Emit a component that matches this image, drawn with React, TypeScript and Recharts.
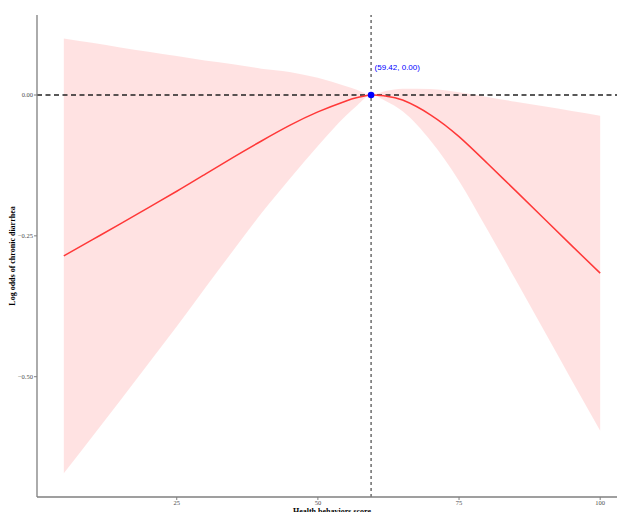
import React from 'react';
import {
  ComposedChart,
  Area,
  Line,
  XAxis,
  YAxis,
  ReferenceLine,
  ReferenceDot,
} from 'recharts';

// Health behaviors score (x)
const scores = [5, 10, 15, 20, 25, 30, 35, 40, 45, 50, 55, 57, 59.42, 62, 65, 70, 75, 80, 85, 90, 95, 100];
// Estimated log odds of chronic diarrhea
const fitValues = [
  -0.2855, -0.2571, -0.2288, -0.1998, -0.1708, -0.1407, -0.1106, -0.0816, -0.054, -0.03, -0.0105,
  -0.0045, 0, -0.0018, -0.0089, -0.0355, -0.0739, -0.1212, -0.1697, -0.2187, -0.2678, -0.3162,
];
// 95% CI upper bound
const upperValues = [
  0.1004, 0.0927, 0.0845, 0.0768, 0.0691, 0.0614, 0.0548, 0.0468, 0.041, 0.0305, 0.0155,
  0.009, 0, 0.0071, 0.0112, 0.0106, 0.0047, -0.0035, -0.0119, -0.0201, -0.0284, -0.0367,
];
// 95% CI lower bound
const lowerValues = [
  -0.6714, -0.6069, -0.5421, -0.4764, -0.4107, -0.3428, -0.276, -0.21, -0.149, -0.0905, -0.0365,
  -0.018, 0, -0.0107, -0.029, -0.0816, -0.1525, -0.2389, -0.3275, -0.4173, -0.5072, -0.5957,
];

const xTicks = [25, 50, 75, 100];
const yTicks = [-0.5, -0.25, 0];
const refPoint = { x: 59.42, y: 0 };

const data = scores.map((s, i) => ({
  x: s,
  fit: fitValues[i],
  band: [lowerValues[i], upperValues[i]],
}));

const axisColor = '#7f7f7f';
const tickStyle = { fill: '#4d4d4d', fontSize: 6.5, fontFamily: 'Liberation Serif, serif' };

const fmtY = (v: number) => {
  const s = Math.abs(v).toFixed(2);
  return v < 0 ? '\u2212' + s : s;
};

export default function App() {
  return (
    <div style={{ position: 'absolute', left: 0, top: 0, width: 617, height: 512, overflow: 'hidden', background: '#fff' }}>
      <ComposedChart
        width={640}
        height={522}
        data={data}
        margin={{ top: 15, right: 13, left: 0, bottom: 0 }}
      >
        <XAxis
          dataKey="x"
          type="number"
          domain={[0.25, 104.75]}
          ticks={xTicks}
          allowDataOverflow
          height={25}
          tickSize={3}
          tickMargin={0}
          axisLine={{ stroke: axisColor, strokeWidth: 1.3 }}
          tickLine={{ stroke: axisColor, strokeWidth: 1 }}
          tick={tickStyle}
          label={{
            content: (p: any) => {
              const vb = p.viewBox || {};
              return (
                <text
                  x={vb.x + vb.width / 2}
                  y={vb.y + 16.5}
                  textAnchor="middle"
                  fontFamily="Liberation Serif, serif"
                  fontWeight="bold"
                  fontSize={8}
                  fill="#000"
                >
                  Health behaviors score
                </text>
              );
            },
          }}
        />
        <YAxis
          type="number"
          domain={[-0.7135, 0.142]}
          ticks={yTicks}
          allowDataOverflow
          width={37}
          tickSize={3}
          tickMargin={1}
          tickFormatter={fmtY}
          axisLine={{ stroke: axisColor, strokeWidth: 1.3 }}
          tickLine={{ stroke: axisColor, strokeWidth: 1 }}
          tick={tickStyle}
          label={{
            content: (p: any) => {
              const vb = p.viewBox || {};
              const cx = 15;
              const cy = vb.y + vb.height / 2;
              return (
                <text
                  x={cx}
                  y={cy}
                  transform={`rotate(-90 ${cx} ${cy})`}
                  textAnchor="middle"
                  fontFamily="Liberation Serif, serif"
                  fontWeight="bold"
                  fontSize={8}
                  fill="#000"
                >
                  Log odds of chronic diarrhea
                </text>
              );
            },
          }}
        />
        <Area
          dataKey="band"
          type="monotone"
          stroke="none"
          fill="#FF0000"
          fillOpacity={0.115}
          isAnimationActive={false}
          activeDot={false}
          dot={false}
        />
        <ReferenceLine y={0} stroke="#222" strokeWidth={1.3} strokeDasharray="5 3.5" />
        <ReferenceLine x={refPoint.x} stroke="#222" strokeWidth={1} strokeDasharray="3 3" />
        <Line
          dataKey="fit"
          type="natural"
          stroke="#FF3838"
          strokeWidth={1.5}
          dot={false}
          activeDot={false}
          isAnimationActive={false}
        />
        <ReferenceDot
          x={refPoint.x}
          y={refPoint.y}
          r={3.3}
          fill="#0000FF"
          stroke="none"
          label={{
            content: (p: any) => {
              const vb = p.viewBox || {};
              const cx = vb.cx !== undefined ? vb.cx : vb.x + (vb.width || 0) / 2;
              const cy = vb.cy !== undefined ? vb.cy : vb.y + (vb.height || 0) / 2;
              return (
                <text
                  x={cx + 3.5}
                  y={cy - 25}
                  textAnchor="start"
                  fontFamily="Liberation Sans, Arial, sans-serif"
                  fontSize={8}
                  fill="#0000FF"
                >
                  {`(${refPoint.x.toFixed(2)}, ${refPoint.y.toFixed(2)})`}
                </text>
              );
            },
          }}
        />
      </ComposedChart>
    </div>
  );
}
